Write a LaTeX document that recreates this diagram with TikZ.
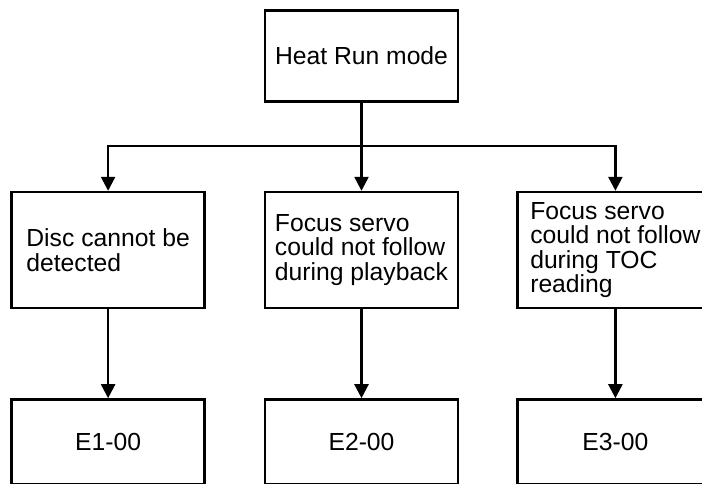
\documentclass[tikz,border=0pt]{standalone}
\usepackage{fontspec}
\setmainfont{Liberation Sans}
\usetikzlibrary{arrows.meta,positioning}

\begin{document}
\begin{tikzpicture}[x=1pt,y=1pt,->,>={Triangle[width=14pt,length=14pt]},line width=2.4pt,
		box/.style={draw,rectangle,minimum width=193pt,align=left,font=\fontsize{24.7}{24.5}\selectfont}]
			\useasboundingbox (0,0) rectangle (702,-484);

			\node	[box,minimum height=116pt]					(play)	at (361.5,-250)			{Focus servo \\ could not follow \\ during playback};
			\node	[box,minimum height=116pt]					(det)	[left=58pt of play]		{Disc cannot be \\ detected};
			\node	[box,minimum height=116pt,minimum width=196pt]	(toc)	[right=57pt of play]	{Focus servo \\ could not follow \\ during TOC \\ reading};
			\node	[box,minimum height=91pt]					(heat)	[above=88pt of play]	{Heat Run mode};
			\node	[box,minimum height=85pt]					(e1)	[below=89pt of det]		{E1-00};
			\node	[box,minimum height=85pt]					(e2)	[below=89pt of play]	{E2-00};
			\node	[box,minimum height=85pt,minimum width=196pt]	(e3)	[below=89pt of toc]		{E3-00};

			% branch from the top box
			\draw	[-]	(heat.south) -- ++(0,-43) coordinate (split);
			\draw	(split) -| (det.north);
			\draw	(split) -- (play.north);
			\draw	(split) -| (toc.north);

			\path
				(det)	edge	(e1)
				(play)	edge	(e2)
				(toc)	edge	(e3)
			;
		\end{tikzpicture}
\end{document}
